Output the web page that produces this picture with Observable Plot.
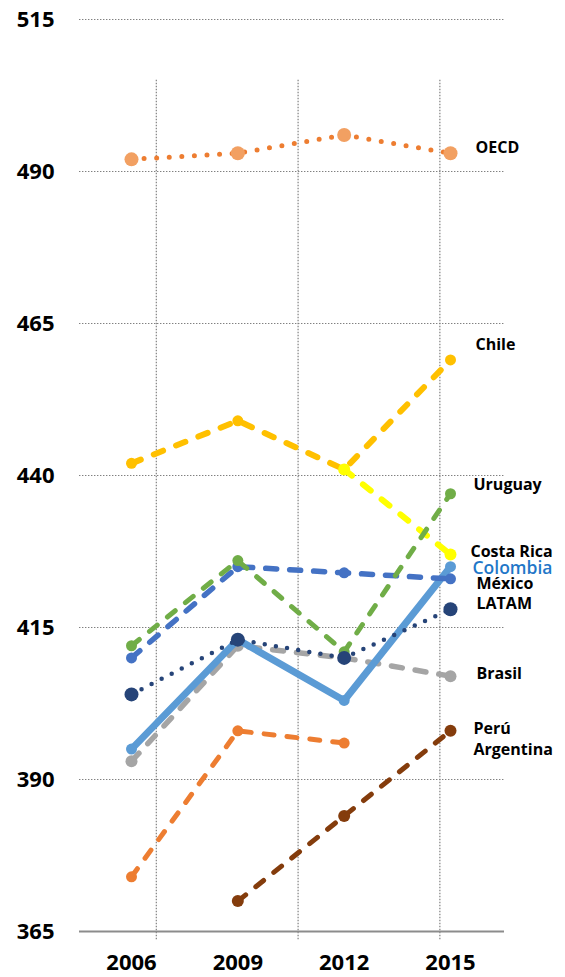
<!DOCTYPE html>
<html><head><meta charset="utf-8">
<script src="https://cdn.jsdelivr.net/npm/d3@7"></script>
<script src="https://cdn.jsdelivr.net/npm/@observablehq/plot@0.6"></script>
<style>html,body{margin:0;padding:0;background:#fff;} svg{display:block}</style>
</head><body><div id="chart"></div>
<script>
// ---- data ----
const years = [2006, 2009, 2012, 2015];
const yTicks = [365, 390, 415, 440, 465, 490, 515];
const vGridYears = [2006.7, 2010.7, 2014.7];
const vGridTop = 505, vGridBottom = 363.5;

const oecd      = [492, 493, 496, 493];
const chile     = [442, 449, 441, 459];
const costaRica = [null, null, 441, 427];
const brasil    = [393, 412, 410, 407];
const colombia  = [395, 413, 403, 425];
const mexico    = [410, 425, 424, 423];
const uruguay   = [412, 426, 411, 437];
const latam     = [404, 413, 410, 418];
const argentina = [374, 398, 396, null];
const peru      = [null, 370, 384, 398];

// ---- styles (drawing order bottom -> top) ----
const series = [
  {name:"OECD",       values:oecd,      line:"#ED7D31", dot:"#F2A062", w:5,   dash:"0,12.6", r:7,   dx:25, dy:-5},
  {name:"Chile",      values:chile,     line:"#FFC000", dot:"#FFC000", w:6,   dash:"10,14",  r:5.5, dx:25, dy:-15},
  {name:"Costa Rica", values:costaRica, line:"#FFFF00", dot:"#FFFF00", w:6,   dash:"10,14",  r:6,   dx:20, dy:-2.5},
  {name:"Brasil",     values:brasil,    line:"#A5A5A5", dot:"#A5A5A5", w:5.5, dash:"11,13",  r:6,   dx:26, dy:-2},
  {name:"Colombia",   values:colombia,  line:"#5B9BD5", dot:"#5B9BD5", w:7,   dash:null,     r:5.5, dx:22, dy:1.5, label:"#1F77C8", weight:600, size:17.5},
  {name:"México",     values:mexico,    line:"#4472C4", dot:"#4472C4", w:5.5, dash:"11,13",  r:5.5, dx:26, dy:5},
  {name:"Uruguay",    values:uruguay,   line:"#70AD47", dot:"#70AD47", w:5,   dash:"10,13",  r:5.5, dx:23, dy:-8.5},
  {name:"LATAM",      values:latam,     line:"#264478", dot:"#264478", w:4.5, dash:"0,11.3", r:7,   dx:26, dy:-5.5},
  {name:"Argentina",  values:argentina, line:"#ED7D31", dot:"#ED7D31", w:5,   dash:"10,13",  r:5.5, dx:23, dy:6.5},
  {name:"Perú",       values:peru,      line:"#843C0C", dot:"#843C0C", w:5,   dash:"10,13",  r:6,   dx:23, dy:-1.5}
];

const lastYear = years[years.length - 1];
const marks = [];

// gridlines
marks.push(Plot.ruleY(yTicks.filter(v => v > yTicks[0]), {stroke:"#808080", strokeWidth:1.2, strokeDasharray:"1.4,1.6"}));
marks.push(Plot.ruleX(vGridYears, {y1: vGridTop, y2: vGridBottom, stroke:"#808080", strokeWidth:1.2, strokeDasharray:"1.4,1.6"}));
marks.push(Plot.ruleY([yTicks[0]], {stroke:"#8c8c8c", strokeWidth:1.8}));

for (const s of series) {
  const pts = years.map((y, i) => ({year:y, value:s.values[i]})).filter(d => d.value != null);
  const lineOpts = {x:"year", y:"value", stroke:s.line, strokeWidth:s.w, strokeLinecap:"round", strokeLinejoin:"round"};
  if (s.dash) lineOpts.strokeDasharray = s.dash;
  marks.push(Plot.line(pts, lineOpts));
  marks.push(Plot.dot(pts, {x:"year", y:"value", r:s.r, fill:s.dot, stroke:"none"}));
}
for (const s of series) {
  const pts = years.map((y, i) => ({year:y, value:s.values[i]})).filter(d => d.value != null);
  const last = pts[pts.length - 1];
  marks.push(Plot.text([{year:lastYear, value:last.value, name:s.name}], {
    x:"year", y:"value", text:"name", textAnchor:"start", dx:s.dx, dy:s.dy,
    fill:s.label || "#000", fontSize:s.size || 16, fontWeight:s.weight || "bold"
  }));
}

marks.push(Plot.axisY(yTicks, {tickSize:0, tickPadding:25, fontSize:22, fontWeight:"bold", label:null, fill:"#000"}));
marks.push(Plot.axisX(years, {tickSize:0, tickPadding:23, fontSize:22, fontWeight:"bold", label:null, tickFormat:d => String(d), fill:"#000"}));

const chart = Plot.plot({
  width: 565,
  height: 977,
  marginTop: 19,
  marginBottom: 46,
  marginLeft: 79,
  marginRight: 61,
  style: {fontFamily: "'Open Sans', 'DejaVu Sans', sans-serif", background: "#fff", color: "#000"},
  x: {type:"linear", domain:[years[0], lastYear], insetLeft:52, insetRight:54},
  y: {domain:[yTicks[0], yTicks[yTicks.length - 1]]},
  marks
});
document.getElementById("chart").appendChild(chart);
</script>
</body></html>
